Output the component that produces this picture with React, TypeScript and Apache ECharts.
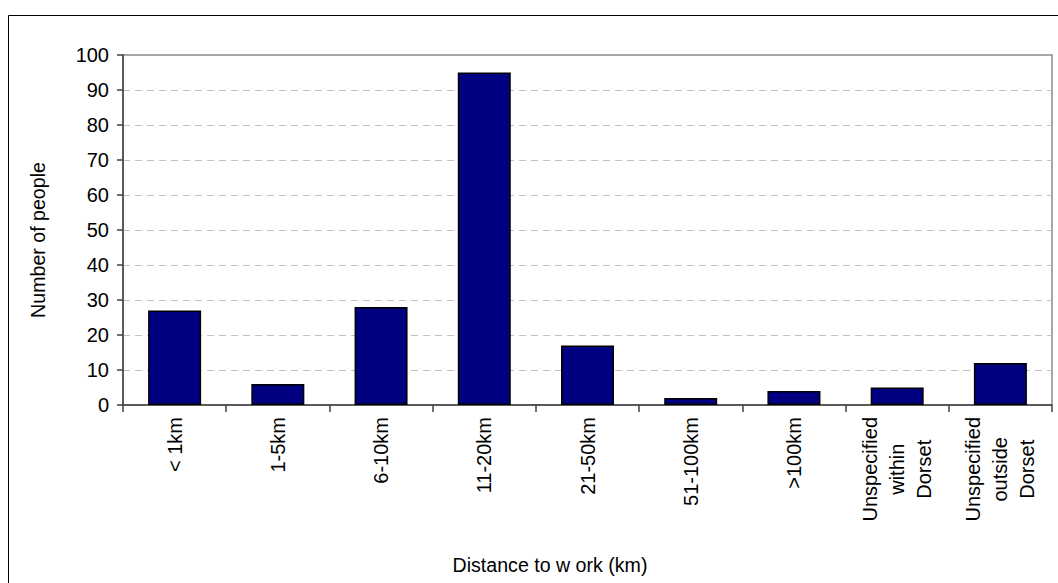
import React, { useEffect, useRef } from "react";
import * as echarts from "echarts";

const categories: string[] = [
  "< 1km",
  "1-5km",
  "6-10km",
  "11-20km",
  "21-50km",
  "51-100km",
  ">100km",
  "Unspecified\nwithin\nDorset",
  "Unspecified\noutside\nDorset",
];
const peopleCounts: number[] = [27, 6, 28, 95, 17, 2, 4, 5, 12];
const yAxisTitle = "Number of people";
const xAxisTitle = "Distance to w ork (km)";

const FONT = "'Liberation Sans', Arial, Helvetica, sans-serif";

export default function App() {
  const ref = useRef<HTMLDivElement>(null);
  useEffect(() => {
    if (!ref.current) return;
    const chart = echarts.init(ref.current, undefined, { renderer: "svg" });
    chart.setOption({
      animation: false,
      backgroundColor: "#ffffff",
      textStyle: { fontFamily: FONT },
      grid: {
        left: 123,
        top: 55,
        width: 929,
        height: 350,
        show: true,
        borderColor: "#8a8a8a",
        borderWidth: 1.5,
        containLabel: false,
      },
      xAxis: {
        type: "category",
        data: categories,
        axisLine: { show: true, lineStyle: { color: "#404040", width: 1.5 } },
        axisTick: { show: true, length: 7, lineStyle: { color: "#404040", width: 1.5 } },
        axisLabel: {
          interval: 0,
          rotate: 90,
          margin: 12,
          color: "#000",
          fontSize: 20,
          fontFamily: FONT,
          formatter: (v: string) =>
            v
              .split("\n")
              .map((s) => `{c|${s}}`)
              .join("\n"),
          rich: {
            c: {
              fontSize: 20,
              lineHeight: 27,
              align: "center",
              color: "#000",
              fontFamily: FONT,
            },
          },
        },
      },
      yAxis: {
        type: "value",
        min: 0,
        max: 100,
        interval: 10,
        axisLine: { show: true, lineStyle: { color: "#404040", width: 1.5 } },
        axisTick: { show: true, length: 6, lineStyle: { color: "#404040", width: 1.5 } },
        axisLabel: { color: "#000", fontSize: 20, margin: 14, fontFamily: FONT },
        splitLine: {
          show: true,
          showMaxLine: false,
          showMinLine: false,
          lineStyle: { color: "#c0c0c0", type: [7, 5], width: 1 },
        },
      },
      series: [
        {
          type: "bar",
          data: peopleCounts,
          barWidth: 53,
          itemStyle: { color: "#000080", borderColor: "#000", borderWidth: 1.5 },
        },
      ],
      graphic: [
        {
          type: "rect",
          shape: { x: 8.5, y: 15.5, width: 1060, height: 580 },
          style: { fill: "none", stroke: "#000", lineWidth: 1 },
          silent: true,
        },
        {
          type: "text",
          x: 550,
          y: 565,
          style: {
            text: xAxisTitle,
            fontSize: 19.6,
            fontFamily: FONT,
            fill: "#000",
            textAlign: "center",
            textVerticalAlign: "middle",
          },
        },
        {
          type: "text",
          x: 38,
          y: 240,
          rotation: Math.PI / 2,
          style: {
            text: yAxisTitle,
            fontSize: 19.6,
            fontFamily: FONT,
            fill: "#000",
            textAlign: "center",
            textVerticalAlign: "middle",
          },
        },
      ],
    });
    return () => chart.dispose();
  }, []);
  return (
    <div
      ref={ref}
      style={{ position: "absolute", left: 0, top: 0, width: 1058, height: 583, background: "#fff" }}
    />
  );
}
